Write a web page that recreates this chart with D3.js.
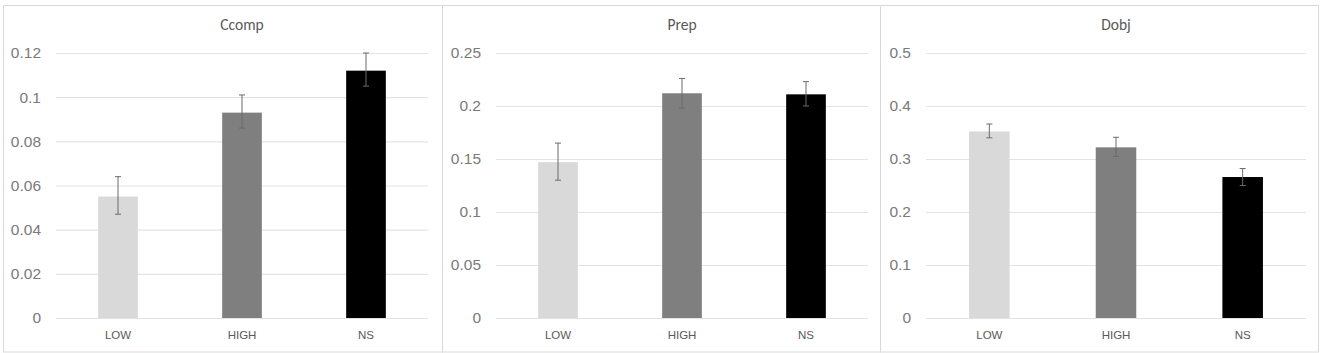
<!DOCTYPE html>
<html>
<head>
<meta charset="utf-8">
<script src="https://cdn.jsdelivr.net/npm/d3@7"></script>
<style>
  body { margin: 0; background: #fff; }
  svg { display: block; font-family: Calibri, Carlito, Lato, "Open Sans", sans-serif; }
</style>
</head>
<body>
<div id="chart"></div>
<script>
const categories = ['LOW', 'HIGH', 'NS']
const titles = ['Ccomp', 'Prep', 'Dobj']
const means = [
  [0.055, 0.093, 0.112],
  [0.147, 0.212, 0.211],
  [0.352, 0.322, 0.266]
]
const errLow = [
  [0.047, 0.086, 0.105],
  [0.130, 0.198, 0.200],
  [0.340, 0.305, 0.250]
]
const errHigh = [
  [0.064, 0.101, 0.120],
  [0.165, 0.226, 0.223],
  [0.366, 0.341, 0.282]
]
const yTicks = [
  [0, 0.02, 0.04, 0.06, 0.08, 0.1, 0.12],
  [0, 0.05, 0.1, 0.15, 0.2, 0.25],
  [0, 0.1, 0.2, 0.3, 0.4, 0.5]
]
const barColors = ['#d9d9d9', '#7f7f7f', '#000000']

const W = 1323, H = 353
// panel frames and plot areas (x)
const panels = [
  {x0: 3, x1: 442, plotL: 56, plotR: 428},
  {x0: 442, x1: 880, plotL: 496, plotR: 868},
  {x0: 880, x1: 1318, plotL: 926, plotR: 1306}
]
const PLOT_TOP = 53, PLOT_BOTTOM = 318

const svg = d3.select('#chart').append('svg').attr('width', W).attr('height', H)

panels.forEach((p, k) => {
  const g = svg.append('g')

  g.append('rect')
    .attr('x', p.x0 + 0.5).attr('y', 5.5).attr('width', p.x1 - p.x0).attr('height', 346.5)
    .attr('fill', '#fff').attr('stroke', '#d9d9d9').attr('stroke-width', 1)

  const ticks = yTicks[k]
  const x = d3.scaleBand().domain(categories).range([p.plotL, p.plotR]).paddingInner(0.68).paddingOuter(0.34)
  const y = d3.scaleLinear().domain([0, ticks[ticks.length - 1]]).range([PLOT_BOTTOM, PLOT_TOP])

  // gridlines + tick labels
  const yAxis = d3.axisLeft(y).tickValues(ticks).tickSize(-(p.plotR - p.plotL)).tickPadding(15).tickFormat(d => String(+d.toFixed(3)))
  const ag = g.append('g').attr('transform', `translate(${p.plotL},0)`).call(yAxis)
  ag.select('.domain').remove()
  ag.selectAll('.tick line').attr('stroke', '#e3e3e3').attr('stroke-width', 1.2)
  ag.selectAll('.tick text').attr('fill', '#7a7a7a').attr('font-size', 15.5).attr('font-family', null)

  // bars
  g.selectAll('rect.bar').data(categories).enter().append('rect')
    .attr('class', 'bar')
    .attr('x', d => x(d)).attr('width', x.bandwidth())
    .attr('y', (d, i) => y(means[k][i]))
    .attr('height', (d, i) => y(0) - y(means[k][i]))
    .attr('fill', (d, i) => barColors[i])

  // error bars
  const eg = g.selectAll('g.err').data(categories).enter().append('g').attr('class', 'err')
    .attr('transform', d => `translate(${x(d) + x.bandwidth() / 2},0)`)
  eg.append('line').attr('x1', 0).attr('x2', 0)
    .attr('y1', (d, i) => y(errLow[k][i])).attr('y2', (d, i) => y(errHigh[k][i]))
  eg.append('line').attr('x1', -3).attr('x2', 3)
    .attr('y1', (d, i) => y(errHigh[k][i])).attr('y2', (d, i) => y(errHigh[k][i]))
  eg.append('line').attr('x1', -3).attr('x2', 3)
    .attr('y1', (d, i) => y(errLow[k][i])).attr('y2', (d, i) => y(errLow[k][i]))
  eg.selectAll('line').attr('stroke', '#6b6b6b').attr('stroke-width', 1)

  // category labels
  const xAxis = d3.axisBottom(x).tickSize(0).tickPadding(13)
  const xg = g.append('g').attr('transform', `translate(0,${PLOT_BOTTOM})`).call(xAxis)
  xg.select('.domain').remove()
  xg.selectAll('.tick text').attr('fill', '#595959').attr('font-size', 11.5).attr('font-family', null)

  // title
  g.append('text')
    .attr('x', (p.plotL + p.plotR) / 2).attr('y', 30)
    .attr('text-anchor', 'middle').attr('font-size', 15.5).attr('fill', '#595959')
    .text(titles[k])
})
</script>
</body>
</html>
